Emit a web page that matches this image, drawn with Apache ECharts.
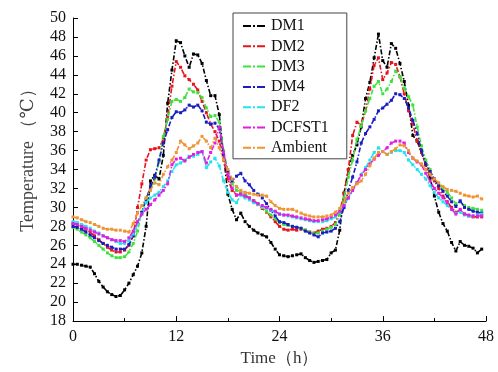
<!DOCTYPE html>
<html><head><meta charset="utf-8">
<script src="https://cdn.jsdelivr.net/npm/echarts@6/dist/echarts.min.js"></script>
<style>html,body{margin:0;padding:0;background:#fff}#c{width:498px;height:372px}</style>
</head><body><div id="c"></div>
<script>
const times = [0,0.5,1,1.5,2,2.5,3,3.5,4,4.5,5,5.5,6,6.5,7,7.5,8,8.5,9,9.5,10,10.5,11,11.5,
12,12.5,13,13.5,14,14.5,15,15.5,16,16.5,17,17.5,18,18.5,19,19.5,20,20.5,21,21.5,22,22.5,23,23.5,
24,24.5,25,25.5,26,26.5,27,27.5,28,28.5,29,29.5,30,30.5,31,31.5,32,32.5,33,33.5,34,34.5,35,35.5,
36,36.5,37,37.5,38,38.5,39,39.5,40,40.5,41,41.5,42,42.5,43,43.5,44,44.5,45,45.5,46,46.5,47,47.5];
const xTicks = [0,12,24,36,48];
const yTicks = [18,20,22,24,26,28,30,32,34,36,38,40,42,44,46,48,50];
const seriesNames = ['DM1','DM2','DM3','DM4','DF2','DCFST1','Ambient'];
const DM1 = [24.0,24.0,23.9,23.8,23.7,23.0,22.2,21.6,21.1,20.8,20.6,20.7,
21.3,22.0,22.9,23.8,25.2,28.0,32.8,33.4,33.0,35.5,41.0,44.5,
47.6,47.4,46.0,44.8,46.2,46.1,45.2,43.4,41.8,41.8,39.8,35.5,
31.4,29.8,28.7,29.4,28.5,28.0,27.6,27.3,27.1,26.9,26.3,25.6,
25.0,24.9,24.8,24.9,25.0,25.1,24.7,24.4,24.2,24.3,24.4,24.5,
25.2,25.5,27.6,31.5,34.0,35.5,36.6,38.5,41.5,43.2,45.8,48.3,
45.5,44.8,47.3,46.8,45.2,43.3,40.8,37.6,37.0,35.8,34.5,33.1,
31.2,29.5,28.3,27.5,26.3,25.4,26.4,26.0,25.9,25.7,25.2,25.6];
const DM2 = [28.3,28.2,28.0,27.7,27.4,27.0,26.6,26.2,25.8,25.5,25.3,25.3,
25.5,26.0,27.0,30.0,32.5,35.0,36.1,36.2,36.3,37.2,39.5,42.8,
45.4,44.8,43.9,43.5,43.0,42.4,41.2,40.0,38.8,38.0,37.0,35.0,
33.0,31.8,31.3,31.5,31.2,31.0,30.7,30.3,29.9,29.5,29.0,28.5,
28.0,27.7,27.6,27.7,27.6,27.7,27.6,27.4,27.3,27.5,27.7,27.8,
28.0,28.4,29.5,31.5,34.0,37.6,39.0,38.7,40.2,42.5,45.0,45.8,
43.5,44.2,45.3,45.1,43.8,42.0,40.2,38.8,37.0,35.8,34.5,33.5,
32.8,32.0,31.2,30.6,30.0,29.5,29.7,29.3,29.1,29.0,29.0,29.0];
const DM3 = [27.9,27.7,27.4,27.1,26.8,26.4,26.0,25.6,25.2,24.9,24.7,24.7,
24.8,25.3,26.2,27.5,29.5,31.0,32.0,33.0,34.8,37.5,39.3,41.2,
41.4,41.2,41.6,42.5,42.2,42.1,41.6,40.5,39.6,39.7,39.0,36.0,
33.8,32.5,31.8,31.7,31.4,31.0,30.7,30.4,30.0,29.6,29.2,28.8,
28.4,28.2,28.1,28.0,27.9,27.8,27.6,27.4,27.2,27.3,27.5,27.7,
27.9,28.2,29.2,31.0,33.2,35.0,37.2,38.6,40.2,41.5,42.8,43.3,
42.0,42.5,43.3,44.4,43.8,42.6,41.7,40.8,38.5,36.5,35.0,34.0,
33.0,32.4,32.0,31.6,31.0,30.4,30.6,30.2,30.0,29.9,29.8,29.7];
const DM4 = [28.0,27.9,27.7,27.4,27.1,26.8,26.5,26.2,26.0,25.8,25.6,25.6,
25.6,26.1,27.0,28.3,29.5,30.8,32.2,33.2,35.0,36.8,38.2,39.5,
40.1,40.0,40.3,40.8,40.6,40.8,40.2,39.0,38.8,38.9,38.3,35.5,
33.8,32.8,33.3,33.6,32.8,32.4,31.8,31.4,31.0,30.4,29.7,29.1,
28.5,28.4,28.2,28.0,27.9,27.8,27.5,27.3,27.1,26.9,27.3,27.4,
27.5,27.8,28.5,30.0,31.8,33.2,34.8,36.8,37.8,38.5,39.3,40.2,
40.5,40.9,41.3,42.0,41.9,41.5,40.5,39.2,37.8,36.0,34.6,33.8,
33.0,32.3,31.7,31.2,30.6,30.1,30.7,30.0,29.8,29.6,29.5,29.4];
const DF2 = [28.5,28.4,28.2,28.0,27.8,27.5,27.3,27.0,26.8,26.6,26.4,26.2,
26.2,26.5,27.2,28.2,29.3,30.5,31.0,31.3,31.6,32.2,32.8,33.8,
34.5,34.7,35.0,35.4,35.4,35.6,35.9,34.2,34.8,35.2,34.4,32.8,
31.6,30.8,30.5,31.3,31.0,30.8,30.5,30.3,30.1,29.9,29.7,29.5,
29.3,29.2,29.1,29.0,28.9,28.8,28.7,28.6,28.5,28.5,28.5,28.6,
28.8,29.0,29.5,30.2,31.0,31.8,32.6,33.5,34.2,35.0,35.8,36.3,
35.9,35.6,35.8,36.0,36.0,35.8,35.0,34.5,34.0,33.5,33.0,32.3,
31.6,31.0,30.6,30.2,29.8,29.4,29.5,29.2,29.1,29.1,29.2,29.3];
const DCFST1 = [28.3,28.2,28.0,27.8,27.6,27.4,27.2,27.0,26.8,26.6,26.5,26.5,
26.4,26.8,27.5,28.5,29.3,29.8,30.3,30.8,31.3,31.8,32.5,34.5,
35.1,35.2,34.9,35.3,35.6,35.8,35.9,34.7,35.8,36.8,38.5,35.8,
33.5,32.0,31.3,31.4,31.2,31.0,30.7,30.4,30.2,30.0,29.8,29.6,
29.3,29.2,29.2,29.1,29.0,28.9,28.8,28.7,28.6,28.6,28.7,28.8,
29.0,29.2,29.6,30.2,31.0,31.8,32.6,33.4,34.0,34.6,35.1,35.5,
35.9,36.3,36.8,37.0,37.0,36.8,35.8,35.2,34.8,34.5,33.6,32.8,
32.0,31.5,31.0,30.5,29.8,29.3,29.8,29.3,29.2,29.1,29.1,29.1];
const Ambient = [29.0,28.9,28.7,28.5,28.4,28.2,28.0,27.8,27.7,27.7,27.6,27.6,
27.5,27.4,28.3,29.4,30.2,31.0,31.8,32.6,32.4,33.5,34.3,35.0,
35.8,37.0,36.6,36.2,36.5,36.8,37.5,37.0,36.3,37.3,36.3,35.0,
34.0,33.0,32.2,31.8,31.6,31.5,31.4,31.3,31.3,31.2,30.6,30.2,
29.9,29.8,29.8,29.8,29.6,29.4,29.2,29.1,29.0,29.0,29.0,29.1,
29.2,29.5,29.9,30.6,31.5,32.1,32.5,32.8,33.5,34.4,35.2,35.8,
35.9,35.6,35.9,36.2,36.6,36.5,36.0,35.2,34.9,34.6,34.0,33.5,
33.0,32.6,32.2,31.9,31.8,31.7,31.5,31.3,31.2,31.1,31.2,30.9];

const allValues = [DM1, DM2, DM3, DM4, DF2, DCFST1, Ambient];
const colors = ['#000000','#e8141c','#3ee23e','#1c1cc4','#22e4ee','#e41de4','#ee9433'];
const serif = "'Liberation Serif', 'DejaVu Serif', serif";
const dashDotIcon = 'path://M0,0h8v2h-8z M10,0h2v2h-2z M14,0h8v2h-8z';

const chart = echarts.init(document.getElementById('c'), null, {renderer: 'canvas'});
chart.setOption({
  animation: false,
  backgroundColor: '#ffffff',
  grid: {left: 73, right: 12, top: 18, bottom: 47, containLabel: false},
  legend: {
    orient: 'vertical', left: 233, top: 13,
    padding: [5, 18, 3, 10],
    borderColor: '#444', borderWidth: 1,
    itemWidth: 24, itemHeight: 2, itemGap: 4.3,
    icon: dashDotIcon,
    textStyle: {fontFamily: serif, fontSize: 16, color: '#111', lineHeight: 16},
    data: seriesNames
  },
  xAxis: {
    type: 'value', min: 0, max: 48, interval: 12,
    name: 'Time（h）', nameLocation: 'middle', nameGap: 24,
    nameTextStyle: {fontFamily: serif, fontSize: 17, color: '#333'},
    axisLine: {show: true, lineStyle: {color: '#000', width: 1}},
    axisTick: {show: true, inside: true, length: 5, lineStyle: {color: '#000'}},
    minorTick: {show: true, splitNumber: 2, length: 3, lineStyle: {color: '#000'}},
    axisLabel: {fontFamily: serif, fontSize: 16, color: '#111', margin: 8,
      formatter: v => xTicks.includes(v) ? String(v) : ''},
    splitLine: {show: false}
  },
  yAxis: {
    type: 'value', min: 18, max: 50, interval: 2,
    name: 'Temperature （℃）', nameLocation: 'middle', nameGap: 36,
    nameTextStyle: {fontFamily: serif, fontSize: 18, color: '#444', padding: [0, 0, 0, 27]},
    axisLine: {show: true, lineStyle: {color: '#000', width: 1}},
    axisTick: {show: true, inside: true, length: 5, lineStyle: {color: '#000'}},
    axisLabel: {fontFamily: serif, fontSize: 16, color: '#111', margin: 7,
      formatter: v => yTicks.includes(v) ? String(v) : ''},
    splitLine: {show: false}
  },
  series: seriesNames.map((name, k) => ({
    name: name,
    type: 'line',
    data: times.map((t, i) => [t, allValues[k][i]]),
    symbol: 'rect', symbolSize: 3, showAllSymbol: true,
    color: colors[k],
    itemStyle: {color: colors[k]},
    lineStyle: {color: colors[k], width: 1.6, type: [5, 2, 1.5, 2]},
    z: 2 + k
  }))
});
</script></body></html>
